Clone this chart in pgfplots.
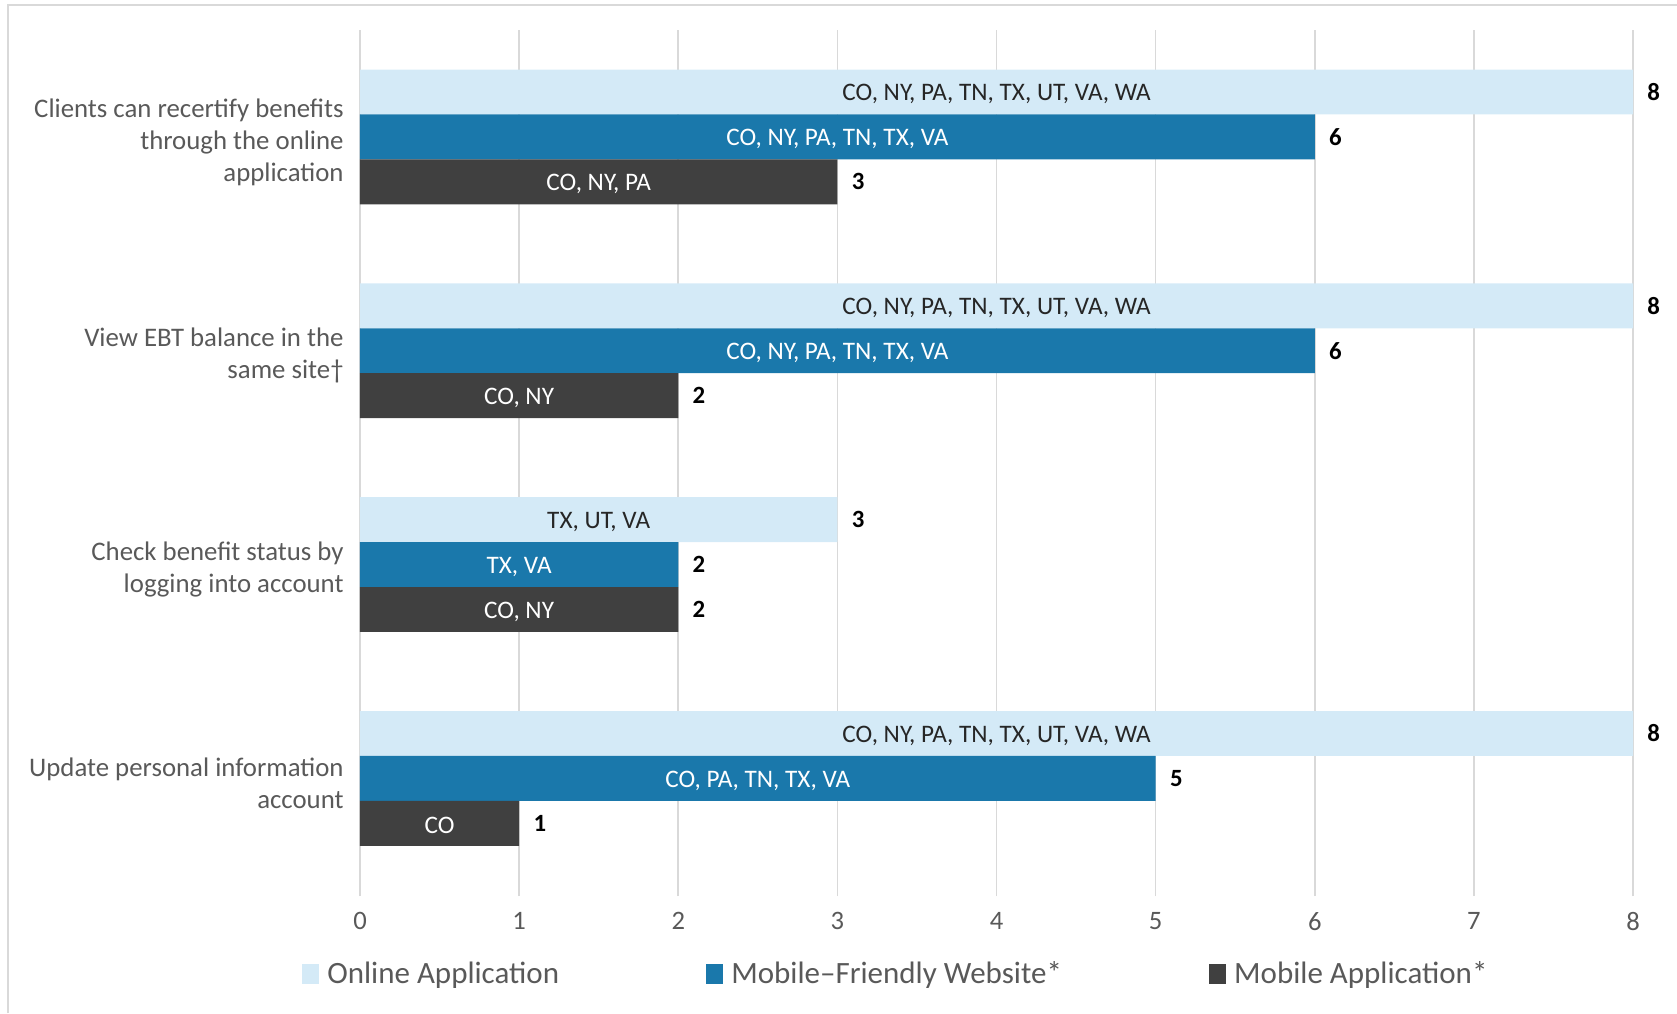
\documentclass[border=0pt]{standalone}
\usepackage{fontspec}
\setmainfont{Carlito}
\usepackage{pgfplots}
\usepackage{pgfplotstable}
\pgfplotsset{compat=1.18}
\definecolor{lightb}{HTML}{D4EAF7}
\definecolor{midb}{HTML}{1A78AB}
\definecolor{darkg}{HTML}{404040}
\definecolor{gridc}{HTML}{D9D9D9}
\definecolor{labc}{HTML}{595959}
\definecolor{txtc}{HTML}{262626}

\pgfplotstableread[col sep=semicolon,row sep=\\]{
y;v;lab\\
3.21;8;CO, NY, PA, TN, TX, UT, VA, WA\\
2.21;8;CO, NY, PA, TN, TX, UT, VA, WA\\
1.21;3;TX, UT, VA\\
0.21;8;CO, NY, PA, TN, TX, UT, VA, WA\\
}\online
\pgfplotstableread[col sep=semicolon,row sep=\\]{
y;v;lab\\
3;6;CO, NY, PA, TN, TX, VA\\
2;6;CO, NY, PA, TN, TX, VA\\
1;2;TX, VA\\
0;5;CO, PA, TN, TX, VA\\
}\mobweb
\pgfplotstableread[col sep=semicolon,row sep=\\]{
y;v;lab\\
2.79;3;CO, NY, PA\\
1.79;2;CO, NY\\
0.79;2;CO, NY\\
-0.21;1;CO\\
}\mobapp

\begin{document}
\begin{tikzpicture}
\useasboundingbox (0,0) rectangle (838.5pt,506.5pt);
\draw[gridc, line width=1pt] (4pt,0) -- (4pt,504pt) -- (838.5pt,504pt);
\begin{axis}[
  at={(180pt,58.5pt)}, anchor=south west,
  scale only axis, width=636.5pt, height=433pt,
  xmin=0, xmax=8, ymin=-0.55, ymax=3.5,
  clip=false,
  axis line style={draw=none},
  major tick length=0pt,
  xtick={0,1,2,3,4,5,6,7,8},
  xmajorgrids, grid style={gridc, line width=0.8pt},
  ytick={0,1,2,3},
  yticklabels={{Update personal information\\account},
               {Check benefit status by\\logging into account},
               {View EBT balance in the\\same site†},
               {Clients can recertify benefits\\through the online\\application}},
  yticklabel style={align=right, inner sep=0pt, xshift=-8pt, yshift=-2.5pt, text=labc,
     font=\fontsize{13.4}{16}\selectfont},
  xticklabel style={inner sep=0pt, yshift=-8pt, text=labc,
     font=\fontsize{13.3}{15}\selectfont},
  /pgf/number format/assume math mode=true,
  legend columns=3,
  legend cell align=left,
  legend style={at={(0.4217,-0.090)}, anchor=center, draw=none, fill=none,
     text=labc, font=\fontsize{15.5}{18}\selectfont,
     /tikz/every even column/.append style={column sep=71.5pt}},
  legend image code/.code={\fill[#1] (0pt,-5pt) rectangle (8.5pt,5pt); \path (10.6pt,0pt);},
]
\addplot[xbar, bar width=0.21, bar shift=0pt, fill=lightb, draw=none,
  nodes near coords, point meta=x,
  nodes near coords style={anchor=west, inner sep=0pt, xshift=7pt, text=black,
     font=\fontsize{12.4}{14}\selectfont\bfseries}]
  table[x=v, y=y]{\online};
\addlegendentry{Online Application}
\addplot[xbar, bar width=0.21, bar shift=0pt, fill=midb, draw=none,
  nodes near coords, point meta=x,
  nodes near coords style={anchor=west, inner sep=0pt, xshift=7pt, text=black,
     font=\fontsize{12.4}{14}\selectfont\bfseries}]
  table[x=v, y=y]{\mobweb};
\addlegendentry{Mobile–Friendly Website*}
\addplot[xbar, bar width=0.21, bar shift=0pt, fill=darkg, draw=none,
  nodes near coords, point meta=x,
  nodes near coords style={anchor=west, inner sep=0pt, xshift=7pt, text=black,
     font=\fontsize{12.4}{14}\selectfont\bfseries}]
  table[x=v, y=y]{\mobapp};
\addlegendentry{Mobile Application*}

\addplot[draw=none, mark=none, forget plot, point meta=explicit symbolic,
  nodes near coords, nodes near coords style={anchor=center, yshift=-1.2pt, text=txtc,
     font=\fontsize{12.6}{14}\selectfont}]
  table[x expr=\thisrow{v}/2, y=y, meta=lab]{\online};
\addplot[draw=none, mark=none, forget plot, point meta=explicit symbolic,
  nodes near coords, nodes near coords style={anchor=center, yshift=-1.2pt, text=white,
     font=\fontsize{12.6}{14}\selectfont}]
  table[x expr=\thisrow{v}/2, y=y, meta=lab]{\mobweb};
\addplot[draw=none, mark=none, forget plot, point meta=explicit symbolic,
  nodes near coords, nodes near coords style={anchor=center, yshift=-1.2pt, text=white,
     font=\fontsize{12.6}{14}\selectfont}]
  table[x expr=\thisrow{v}/2, y=y, meta=lab]{\mobapp};
\end{axis}
\end{tikzpicture}
\end{document}
